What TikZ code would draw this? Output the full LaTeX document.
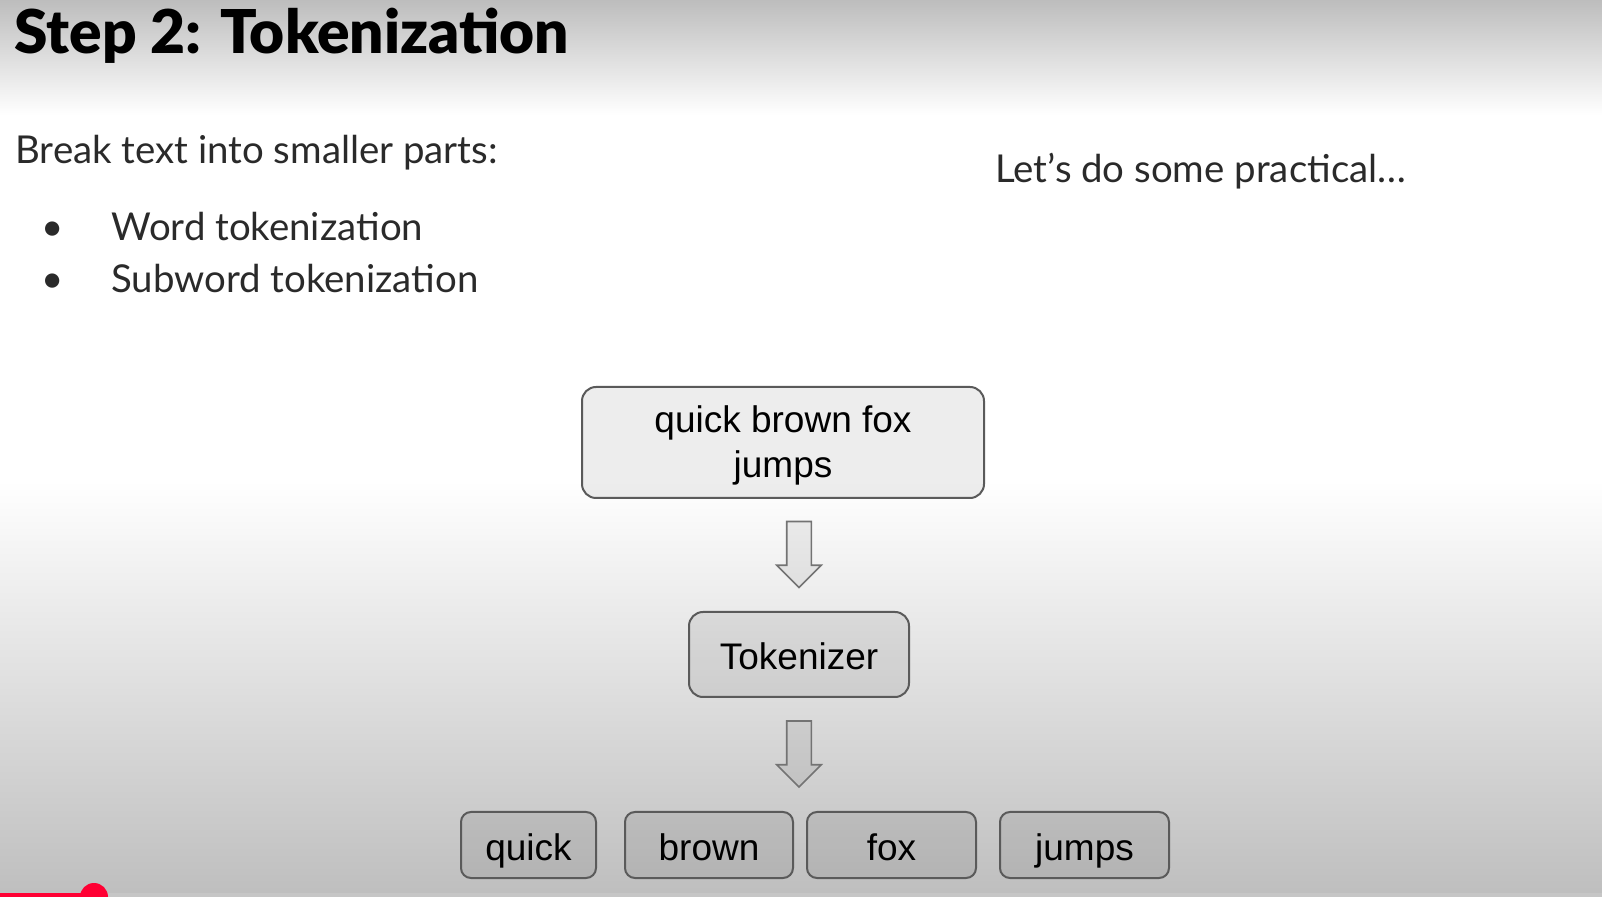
\documentclass[tikz,border=0pt]{standalone}
\usepackage{fontspec}
\setmainfont{Lato}
\newfontfamily\titlefont{Lato Black}
\newfontfamily\boxfont{Liberation Sans}
\usetikzlibrary{shapes.arrows,calc}
\definecolor{boxline}{HTML}{5A5A5A}
\definecolor{ytred}{HTML}{FF0033}
\definecolor{bgtop}{HTML}{BDBDBD}
\definecolor{bgbot}{HTML}{BEBEBE}
\definecolor{bodyink}{HTML}{2A2A2A}
\begin{document}
\begin{tikzpicture}[x=0.5pt,y=-0.5pt,
		bodytext/.style={anchor=base west, inner sep=0pt, text=bodyink, font=\fontsize{19.2}{23}\selectfont},
		slidebox/.style={draw=boxline, line width=1pt, rounded corners=7pt, fill=black, fill opacity=0.07, text opacity=1, align=center, inner sep=0pt, text height=17pt, text depth=2pt, font=\boxfont\fontsize{18.5}{22.5}\selectfont},
		tokbox/.style={slidebox, rounded corners=5pt, minimum height=33pt},
		downarrow/.style={single arrow, shape border rotate=270, draw=boxline!85, line width=0.8pt, fill=black, fill opacity=0.06, minimum height=33pt, minimum width=21.5pt, single arrow head extend=5pt, inner sep=5.75pt, yshift=3.3pt}]
	\useasboundingbox (0,0) rectangle (1602,897);
	% slide background
	\fill[white] (0,0) rectangle (1602,897);
	\shade[top color=bgtop, bottom color=white] (0,0) rectangle (1602,115);
	\shade[top color=white, bottom color=bgbot] (0,480) rectangle (1602,897);
	\fill[gray!45] (94,893) rectangle (1602,897);
	\fill[ytred] (0,893) rectangle (94,897);
	\fill[ytred] (94,897) circle (7pt);
	% text part
	\node[anchor=base west, inner sep=0pt, font=\titlefont\fontsize{30.2}{34}\selectfont] (title) at (14,54) {Step 2: Tokenization};
	\node[bodytext] (intro) at (15,163.5) {Break text into smaller parts:};
	\node[bodytext] (word) at (111,241) {Word tokenization};
	\node[bodytext] (subword) at (111,293) {Subword tokenization};
	\node[bodytext, anchor=base] (dot1) at (53,241) {\textbullet};
	\node[bodytext, anchor=base] (dot2) at (53,293) {\textbullet};
	\node[bodytext] (practical) at (995,183) {Let’s do some practical…};
	% diagram
	\node[slidebox, text height=, text depth=0.5pt, minimum width=201pt, minimum height=55.5pt] (sentence) at (783,442.5) {quick brown fox\\jumps};
	\node[slidebox, minimum width=110pt, minimum height=42.5pt] (tokenizer) at (799,654.5) {Tokenizer};
	\node[tokbox, minimum width=67.5pt] (quick) at (528.5,845) {quick};
	\node[tokbox, minimum width=84pt] (brown) at (709,845) {brown};
	\node[tokbox, minimum width=84.5pt] (fox) at (891.5,845) {fox};
	\node[tokbox, minimum width=84.5pt] (jumps) at (1084.5,845) {jumps};
	\node[downarrow] (arrowa) at ($(sentence.south -| tokenizer.north)!0.5!(tokenizer.north)$) {};
	\node[downarrow] (arrowb) at ($(tokenizer.south)!0.5!(brown.north -| tokenizer.south)$) {};
\end{tikzpicture}
\end{document}
